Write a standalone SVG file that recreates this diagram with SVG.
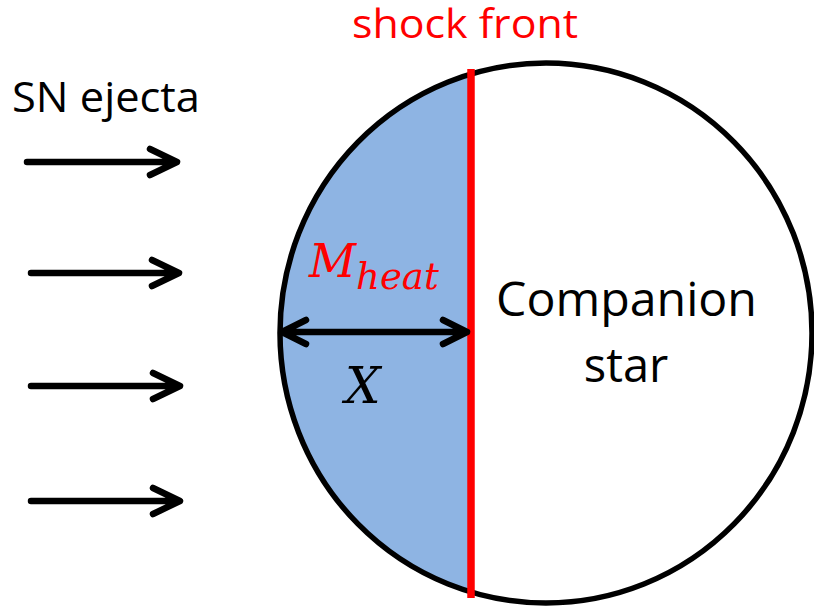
<svg xmlns="http://www.w3.org/2000/svg" width="814" height="608" viewBox="0 0 814 608">
<style>
.lbl{font-family:"Open Sans","Liberation Sans",sans-serif;}
.arr{fill:none;stroke:#000;stroke-width:6.5;stroke-linecap:round;stroke-linejoin:round;}
.math{font-family:"DejaVu Serif","Liberation Serif",serif;font-style:italic;}
</style>
<defs>
<clipPath id="clipStar"><ellipse cx="546" cy="333" rx="266" ry="270"/></clipPath>
</defs>
<rect width="814" height="608" fill="#fff"/>
<g id="companion-star">
<rect x="0" y="0" width="471" height="608" fill="#8EB4E3" clip-path="url(#clipStar)"/>
<ellipse cx="546" cy="333" rx="266" ry="270" fill="none" stroke="#000" stroke-width="5.5"/>
<text class="lbl" x="496" y="316" font-size="47" textLength="261" lengthAdjust="spacingAndGlyphs" fill="#000">Companion</text>
<text class="lbl" x="626" y="382" font-size="47" text-anchor="middle" fill="#000">star</text>
</g>
<g id="shock-front">
<line x1="471" y1="69" x2="471" y2="598" stroke="#FF0000" stroke-width="7.5"/>
<text class="lbl" x="352" y="38" font-size="41" textLength="226" lengthAdjust="spacingAndGlyphs" fill="#FF0000">shock front</text>
</g>
<g id="sn-ejecta">
<text class="lbl" x="12" y="112" font-size="42" textLength="188" lengthAdjust="spacingAndGlyphs" fill="#000">SN ejecta</text>
</g>
<g id="connectors">
<g class="arr">
<path d="M27 162H176M150 149L177 162L150 175"/>
<path d="M31 273H178M152 260L179 273L152 286"/>
<path d="M31 386H179M153 373L180 386L153 399"/>
<path d="M31 501H179M153 488L180 501L153 514"/>
<path d="M282 332H467M306 320L282 332L306 344M443 320L467 332L443 344"/>
</g>
</g>
<g id="labels">
<text class="math" x="309" y="277" font-size="46" fill="#FF0000">M<tspan font-size="37" dy="12">heat</tspan></text>
<text class="math" x="345" y="403" font-size="50" fill="#000">X</text>
</g>
</svg>
